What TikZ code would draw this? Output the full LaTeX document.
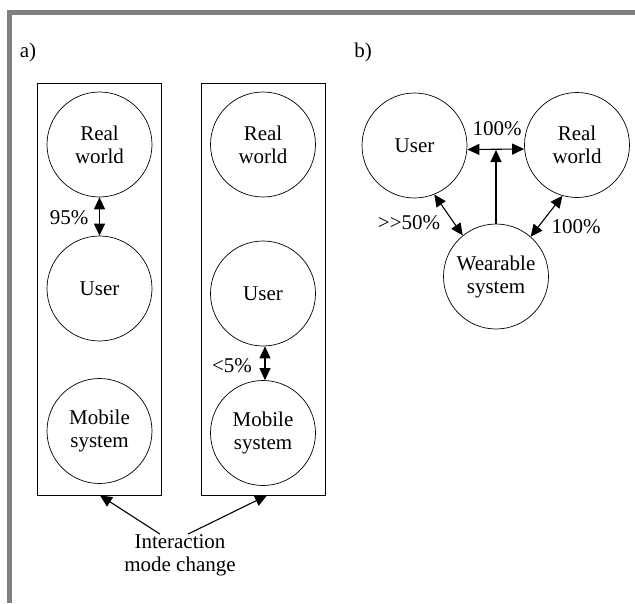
\documentclass[tikz,border=0pt]{standalone}
\usepackage{fontspec}
\setmainfont{Liberation Serif}
\usepackage{tikz}
\usetikzlibrary{arrows.meta,calc}

\definecolor{framegray}{RGB}{128,128,128}

\begin{document}
\begin{tikzpicture}[x=1pt,y=-1pt,
  txt/.style={font=\fontsize{21}{23}\selectfont, align=center, inner sep=0pt},
  ring/.style={txt, draw, circle, line width=0.7pt, minimum size=105pt},
  panel/.style={draw, line width=0.8pt, minimum width=124pt, minimum height=412pt, inner sep=0pt},
  link/.style={line width=1.1pt, {Triangle[length=12pt,width=11pt]}-{Triangle[length=12pt,width=11pt]}},
  point/.style={line width=1.1pt, -{Triangle[length=12pt,width=11pt]}}]
  \useasboundingbox (0,0) rectangle (635,603);
  \fill[white] (0,0) rectangle (635,603);

  % frame
  \fill[framegray] (7,10) rectangle (635,15);
  \fill[framegray] (7,10) rectangle (12,603);

  % a)
  \node[txt] (la) at (28,52) {a)};
  \node[panel] (boxa) at (99,289) {};
  \node[panel] (boxb) at (263.5,289) {};

  \node[ring] (rw1) at (99.5,144.5) {Real\\world};
  \node[ring] (us1) at (99.5,288.5) {User};
  \node[ring] (ms1) at (99.5,431) {Mobile\\system};

  \node[ring] (rw2) at (263,144.5) {Real\\world};
  \node[ring] (us2) at (263,293.5) {User};
  \node[ring] (ms2) at (263,433) {Mobile\\system};

  \draw[link] (rw1) -- (us1);
  \node[txt] (p95) at (69,218) {95\%};
  \draw[link] ([xshift=2pt]us2.south) -- ([xshift=2pt]ms2.north);
  \node[txt] (p5) at (232,366) {<5\%};

  \node[txt] (imc) at (180,555) {Interaction\\mode change};
  \draw[point] ([xshift=-20pt]imc.north) -- ([xshift=1pt]boxa.south);
  \draw[point] ([xshift=8pt]imc.north) -- ([xshift=3.5pt]boxb.south);

  % b)
  \node[txt] (lb) at (363,52) {b)};
  \node[ring] (us3) at (414.5,145.5) {User};
  \node[ring] (rw3) at (577,145) {Real\\world};
  \node[ring] (ws) at (496,276.5) {Wearable\\system};

  \draw[link] ([yshift=-4pt]us3.east) -- ([yshift=-4pt]rw3.west);
  \coordinate (hmid) at (ws.north |- 0,150);
  \draw[point] (ws.north) -- (hmid);
  \draw[link] (us3.-68) -- (ws.129);
  \draw[link] (rw3.-106) -- (ws.49);

  \node[txt] (p100a) at (497,129) {100\%};
  \node[txt] (p50) at (409,223) {>{}>50\%};
  \node[txt] (p100b) at (576,227) {100\%};
\end{tikzpicture}
\end{document}
